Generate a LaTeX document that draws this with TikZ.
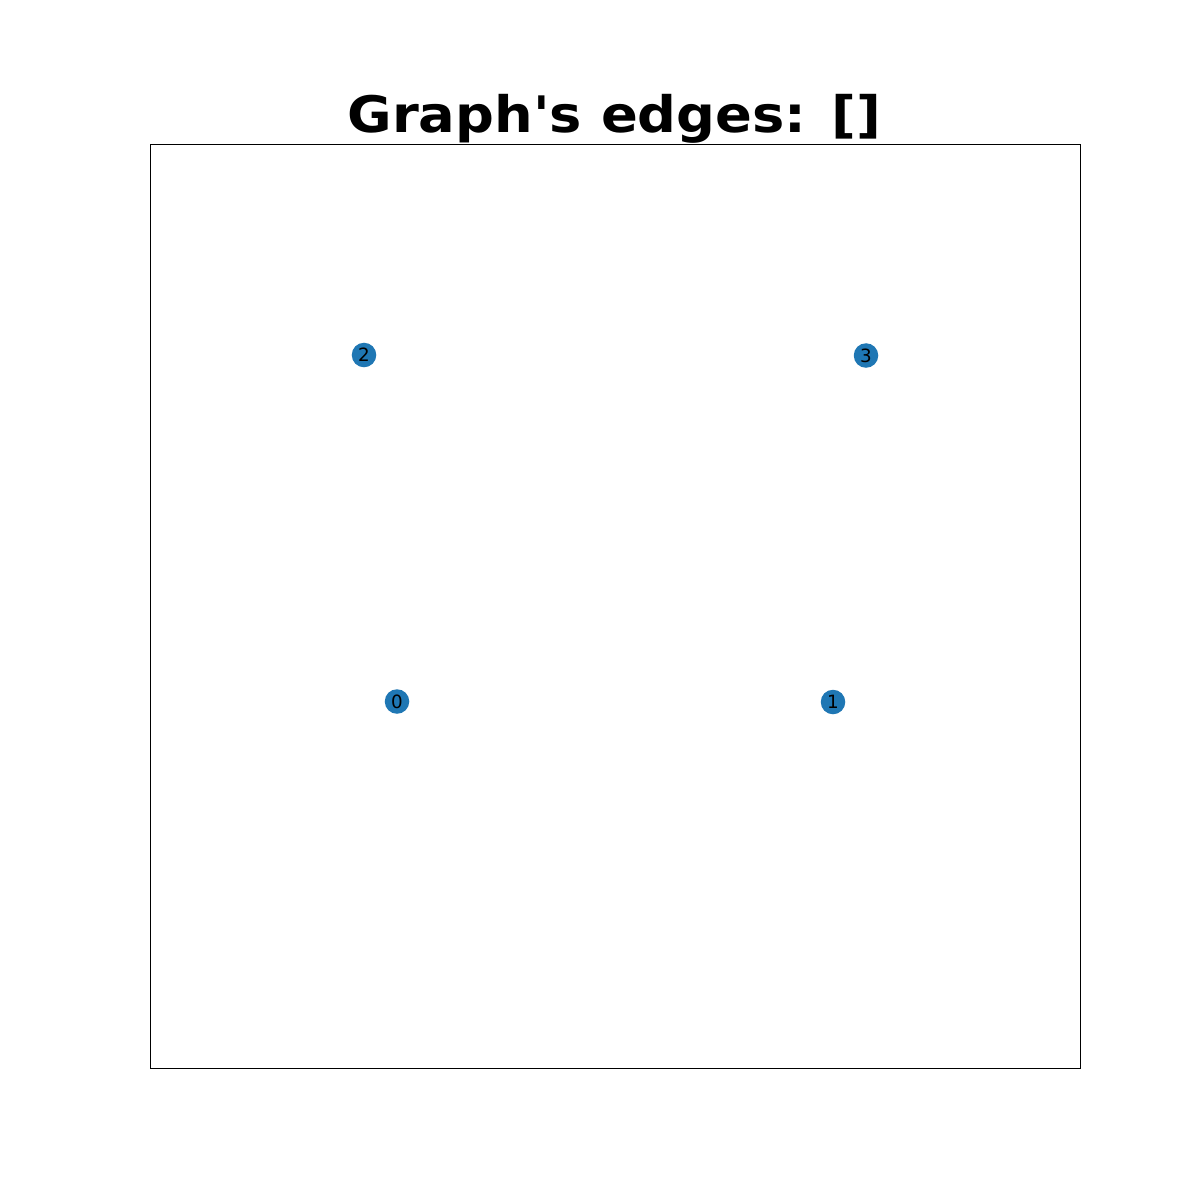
\documentclass[tikz,border=0pt]{standalone}
\usepackage{fontspec}
\setmainfont{DejaVu Sans}
\usetikzlibrary{positioning}
\definecolor{nodeblue}{RGB}{31,119,180}

\begin{document}
\begin{tikzpicture}[x=0.01cm, y=-0.01cm]
			\tikzstyle{Vertex} 	= [circle, fill=nodeblue, minimum size=0.245cm, inner sep=0pt, font=\fontsize{5.2pt}{5.5pt}\selectfont]
			\tikzstyle{Frame}	= [black, line width=0.25pt]
			
			\useasboundingbox (0,0) rectangle (1200,1200);
			\fill[white] (0,0) rectangle (1200,1200);
			\draw [Frame] (150,144) rectangle (1080,1068);
			
			\node (title) at (614.5,132) [anchor=base, inner sep=0pt, font=\fontsize{14.3pt}{16pt}\selectfont\bfseries] {\scalebox{1.08}[1]{Graph\textquotesingle s edges: []}};
			
			\node (v0) at (397,701.5) [Vertex] {0};
			\node (v1) at (833,702) [Vertex] {1};
			\node (v2) at (364,355) [Vertex] {2};
			\node (v3) at (866,355.5) [Vertex] {3};
		\end{tikzpicture}
\end{document}
